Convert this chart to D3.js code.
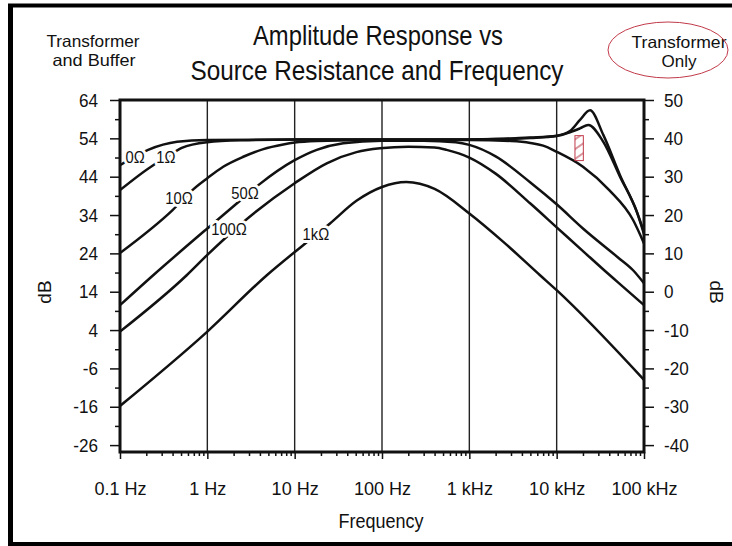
<!DOCTYPE html>
<html lang="en">
<head>
<meta charset="UTF-8" />
<title>Amplitude Response vs Source Resistance and Frequency</title>
<script src="https://cdnjs.cloudflare.com/ajax/libs/d3/7.8.5/d3.min.js"></script>
<style>
  body { margin: 0; background: #fff; }
  svg text { font-family: "Liberation Sans Narrow", "Arial Narrow", "Liberation Sans", Arial, sans-serif; fill: #111; }
  .curve { fill: none; stroke: #111; stroke-width: 2.5px; stroke-linejoin: round; }
  .grid line { stroke: #222; stroke-width: 1.4px; }
  .axis path { display: none; }
  .axis line { stroke: #111; stroke-width: 1.5px; }
  .axis text { font-size: 19px; }
  .rlabel { font-size: 16px; paint-order: stroke; stroke: #fff; stroke-width: 6px; stroke-linejoin: round; }
</style>
</head>
<body>
<svg width="732" height="546"></svg>
<script>
// axis ticks
const xTicks = [0.1, 1, 10, 100, 1000, 10000, 100000];
const xTickLabels = ["0.1 Hz", "1 Hz", "10 Hz", "100 Hz", "1 kHz", "10 kHz", "100 kHz"];
const yTicksLeft = [64, 54, 44, 34, 24, 14, 4, -6, -16, -26];
const yTicksRight = [50, 40, 30, 20, 10, 0, -10, -20, -30, -40];

// curves: [frequency Hz, dB on left scale]
const r0 = [[0.1, 47.0], [0.21, 51.0], [0.45, 53.1], [1, 53.6], [10, 53.7], [100, 53.7], [1000, 53.7],
  [2000, 53.8], [5000, 54.2], [10000, 54.7], [14200, 55.9], [18500, 58.8], [24100, 61.3],
  [34200, 54.9], [53100, 44.4], [82600, 34.9], [100000, 29.6]];
const r1 = [[0.1, 40.5], [0.24, 47.0], [0.33, 48.9], [0.51, 51.5], [1, 53.0], [2.4, 53.5], [10, 53.7],
  [100, 53.7], [1000, 53.7], [2000, 53.8], [5000, 54.1], [10000, 54.6], [14200, 55.6], [18500, 56.6],
  [23000, 57.5], [34200, 53.1], [53100, 44.0], [82600, 34.9], [100000, 29.0]];
const r10 = [[0.1, 24.1], [0.4, 35.3], [0.69, 40.7], [1, 43.6], [1.52, 46.6], [2.58, 49.2], [4.38, 51.2],
  [7.4, 52.4], [10, 52.9], [17.9, 53.3], [100, 53.6], [1000, 53.6], [3000, 53.3], [5000, 52.8],
  [7000, 52.1], [10000, 50.5], [20000, 46.6], [40000, 40.5], [75000, 32.7], [100000, 26.6]];
const r50 = [[0.1, 10.5], [0.24, 18.3], [1, 30.5], [2.17, 37.0], [3.84, 41.8], [10, 48.3], [17.9, 51.0],
  [36, 52.7], [100, 53.4], [300, 53.4], [700, 53.0], [1000, 52.3], [2000, 49.3], [5000, 42.5],
  [10000, 36.8], [20000, 30.5], [50000, 23.0], [75000, 19.6], [100000, 16.2]];
const r100 = [[0.1, 3.6], [0.58, 18.3], [1, 23.6], [2.47, 31.8], [10, 42.3], [23.3, 47.5], [51, 50.4],
  [95, 51.4], [200, 51.8], [400, 51.6], [550, 51.0], [1000, 49.0], [2000, 44.8], [5000, 37.0],
  [10000, 30.8], [20000, 24.6], [35000, 19.6], [50000, 16.5], [100000, 10.5]];
const r1k = [[0.1, -15.8], [1, 3.6], [4.8, 18.3], [12.6, 26.2], [25.4, 31.8], [51, 37.7], [100, 41.3],
  [190, 42.6], [400, 40.8], [1000, 34.4], [2450, 27.0], [6450, 18.3], [10000, 14.4], [100000, -9.0]];

const curves = [r0, r1, r10, r50, r100, r1k];

// curve labels: [text, frequency, dB]
const labels = [["0Ω", 0.149, 49.1], ["1Ω", 0.336, 48.9], ["10Ω", 0.474, 38.4],
  ["50Ω", 2.7, 39.7], ["100Ω", 1.77, 30.1], ["1kΩ", 17.5, 29.0]];

const svg = d3.select("svg");
const pL = 120, pR = 644, pT = 100, pB = 452;

const x = d3.scaleLog().domain([0.1, 100000]).range([pL, pR]);
const y = d3.scaleLinear().domain([-27.8, 64]).range([pB, pT]);
const yR = d3.scaleLinear().domain([-41.8, 50]).range([pB, pT]);

// squeeze text horizontally, the original uses a narrow face
function condense(sel, k) {
  sel.each(function () {
    const w = this.getComputedTextLength();
    d3.select(this).attr("textLength", w * k).attr("lengthAdjust", "spacingAndGlyphs");
  });
}

// outer frame
svg.append("rect").attr("width", 732).attr("height", 546).attr("fill", "#fff");
svg.append("line").attr("x1", 10.5).attr("x2", 10.5).attr("y1", 4).attr("y2", 546)
  .attr("stroke", "#000").attr("stroke-width", 5);
svg.append("line").attr("x1", 8).attr("x2", 732).attr("y1", 5.5).attr("y2", 5.5)
  .attr("stroke", "#000").attr("stroke-width", 4);
svg.append("line").attr("x1", 8).attr("x2", 732).attr("y1", 544).attr("y2", 544)
  .attr("stroke", "#000").attr("stroke-width", 4);

// titles
function txt(s, cx, cy, size, len) {
  const t = svg.append("text").attr("x", cx).attr("y", cy)
    .attr("text-anchor", "middle").attr("font-size", size).text(s);
  if (len) t.attr("textLength", len).attr("lengthAdjust", "spacingAndGlyphs");
  return t;
}
txt("Amplitude Response vs", 378, 45, 28, 250);
txt("Source Resistance and Frequency", 377, 80, 28, 373);
txt("Transformer", 93, 47, 16.5, 93);
txt("and Buffer", 94, 66, 16.5, 83);
txt("Transformer", 679, 48, 16.5, 95);
txt("Only", 679, 67, 16.5, 35);
svg.append("ellipse").attr("cx", 668).attr("cy", 50).attr("rx", 60).attr("ry", 28)
  .attr("fill", "none").attr("stroke", "#c23a4a").attr("stroke-width", 1);

// grid at decades
svg.append("g").attr("class", "grid").selectAll("line")
  .data(xTicks.slice(1, -1)).join("line")
  .attr("x1", d => x(d)).attr("x2", d => x(d)).attr("y1", pT).attr("y2", pB);

// axes
const gl = svg.append("g").attr("class", "axis").attr("transform", `translate(${pL},0)`)
  .call(d3.axisLeft(y).tickValues(yTicksLeft).tickSize(10).tickPadding(12).tickFormat(d => String(d)));
svg.append("g").attr("class", "axis").attr("transform", `translate(${pL},0)`)
  .call(d3.axisLeft(y).tickValues(yTicksLeft.slice(1).map(d => d + 5)).tickSize(5).tickFormat(""));
const gr = svg.append("g").attr("class", "axis").attr("transform", `translate(${pR},0)`)
  .call(d3.axisRight(yR).tickValues(yTicksRight).tickSize(10).tickPadding(10).tickFormat(d => String(d)));
svg.append("g").attr("class", "axis").attr("transform", `translate(${pR},0)`)
  .call(d3.axisRight(yR).tickValues(yTicksRight.slice(1).map(d => d + 5)).tickSize(5).tickFormat(""));

const minorX = [];
xTicks.slice(0, -1).forEach(d => { for (let k = 2; k < 10; k++) minorX.push(d * k); });
const gb = svg.append("g").attr("class", "axis").attr("transform", `translate(0,${pB})`)
  .call(d3.axisBottom(x).tickValues(xTicks).tickSize(7).tickPadding(23)
    .tickFormat((d, i) => xTickLabels[i]));
svg.append("g").attr("class", "axis").attr("transform", `translate(0,${pB})`)
  .call(d3.axisBottom(x).tickValues(minorX).tickSize(4).tickFormat(""));
[gl, gr].forEach(g => condense(g.selectAll("text"), 0.9));
condense(gb.selectAll("text"), 0.95);

// axis titles
condense(txt("Frequency", 381, 528, 20), 0.9);
svg.append("text").attr("transform", "translate(51,292) rotate(-90)")
  .attr("text-anchor", "middle").attr("font-size", 19).text("dB");
svg.append("text").attr("transform", "translate(710,292) rotate(90)")
  .attr("text-anchor", "middle").attr("font-size", 19).text("dB");

// curves
svg.append("clipPath").attr("id", "plot").append("rect")
  .attr("x", pL).attr("y", pT).attr("width", pR - pL).attr("height", pB - pT);
const line = d3.line().x(d => x(d[0])).y(d => y(d[1])).curve(d3.curveMonotoneX);
svg.append("g").attr("clip-path", "url(#plot)").selectAll("path")
  .data(curves).join("path").attr("class", "curve").attr("d", line);

// labels with white knock-out
const lt = svg.append("g").selectAll("text").data(labels).join("text")
  .attr("class", "rlabel").attr("text-anchor", "middle")
  .attr("x", d => x(d[1])).attr("y", d => y(d[2]) + 5.5).text(d => d[0]);
condense(lt, 0.92);

// hatched marker near the resonance
const defs = svg.append("defs");
const pat = defs.append("pattern").attr("id", "hatch").attr("patternUnits", "userSpaceOnUse")
  .attr("width", 8).attr("height", 8).attr("patternTransform", "rotate(-35)");
pat.append("line").attr("x1", 0).attr("x2", 8).attr("y1", 4).attr("y2", 4)
  .attr("stroke", "#b23040").attr("stroke-width", 1);
svg.append("rect").attr("x", x(16200)).attr("y", y(54.7))
  .attr("width", x(20200) - x(16200)).attr("height", y(48.2) - y(54.7))
  .attr("fill", "url(#hatch)").attr("stroke", "#c23a4a").attr("stroke-width", 1);

// plot frame
svg.append("rect").attr("x", pL).attr("y", pT).attr("width", pR - pL).attr("height", pB - pT)
  .attr("fill", "none").attr("stroke", "#111").attr("stroke-width", 3);
</script>
</body>
</html>
